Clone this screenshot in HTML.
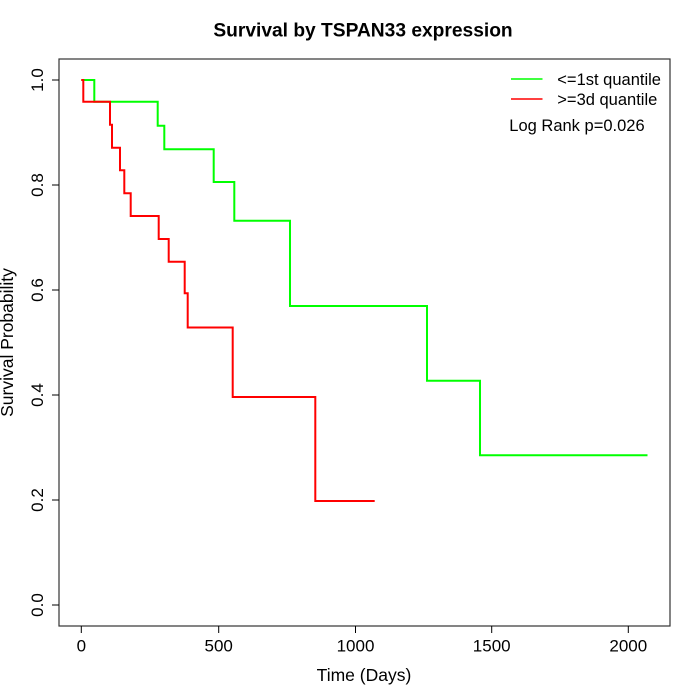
<!DOCTYPE html>
<html>
<head>
<meta charset="utf-8">
<style>
  html,body{margin:0;padding:0;background:#fff;}
  svg{display:block;}
  text{font-family:"Liberation Sans", Arial, sans-serif;fill:#000;}
</style>
</head>
<body>
<svg width="700" height="700" viewBox="0 0 700 700" xmlns="http://www.w3.org/2000/svg">
  <rect x="0" y="0" width="700" height="700" fill="#fff"/>
  <!-- title -->
  <text x="363" y="36.7" font-size="19.2" font-weight="bold" text-anchor="middle">Survival by TSPAN33 expression</text>

  <!-- plot box -->
  <rect x="59" y="59" width="611" height="567" fill="none" stroke="#333" stroke-width="1.2"/>

  <!-- x ticks -->
  <g stroke="#000" stroke-width="1">
    <line x1="81.3" y1="626" x2="81.3" y2="633"/>
    <line x1="218.7" y1="626" x2="218.7" y2="633"/>
    <line x1="355.5" y1="626" x2="355.5" y2="633"/>
    <line x1="491.7" y1="626" x2="491.7" y2="633"/>
    <line x1="628.3" y1="626" x2="628.3" y2="633"/>
  </g>
  <g font-size="17" text-anchor="middle">
    <text x="81.3" y="651.7">0</text>
    <text x="218.7" y="651.7">500</text>
    <text x="355.5" y="651.7">1000</text>
    <text x="491.7" y="651.7">1500</text>
    <text x="628.3" y="651.7">2000</text>
  </g>
  <text x="364" y="681" font-size="17.5" text-anchor="middle">Time (Days)</text>

  <!-- y ticks -->
  <g stroke="#000" stroke-width="1">
    <line x1="52" y1="605" x2="59" y2="605"/>
    <line x1="52" y1="500" x2="59" y2="500"/>
    <line x1="52" y1="395" x2="59" y2="395"/>
    <line x1="52" y1="290" x2="59" y2="290"/>
    <line x1="52" y1="185" x2="59" y2="185"/>
    <line x1="52" y1="80" x2="59" y2="80"/>
  </g>
  <g font-size="17" text-anchor="middle">
    <text transform="translate(43,605) rotate(-90)">0.0</text>
    <text transform="translate(43,500) rotate(-90)">0.2</text>
    <text transform="translate(43,395) rotate(-90)">0.4</text>
    <text transform="translate(43,290) rotate(-90)">0.6</text>
    <text transform="translate(43,185) rotate(-90)">0.8</text>
    <text transform="translate(43,80) rotate(-90)">1.0</text>
  </g>
  <text transform="translate(13,342.5) rotate(-90)" font-size="17.5" text-anchor="middle">Survival Probability</text>

  <!-- green curve -->
  <path d="M81.3,80 H94.3 V101.7 H157.7 V125.7 H164.3 V149.3 H213.7 V182 H234.3 V220.7 H290 V306 H427 V380.7 H480 V455.3 H647.5"
        fill="none" stroke="#00ff00" stroke-width="2"/>
  <!-- red curve -->
  <path d="M81.3,80 H83.3 V101.7 H110 V124.7 H112 V147.7 H120 V170.3 H124.3 V193.3 H130.7 V216 H158.7 V239 H168.7 V261.7 H184.7 V293.3 H187.7 V327.5 H232.7 V397 H315.3 V501 H374.7"
        fill="none" stroke="#ff0000" stroke-width="2"/>

  <!-- legend -->
  <line x1="511" y1="79" x2="542.5" y2="79" stroke="#00ff00" stroke-width="1.5"/>
  <line x1="511" y1="99" x2="542.5" y2="99" stroke="#ff0000" stroke-width="1.5"/>
  <text x="557.3" y="85" font-size="16.5">&lt;=1st quantile</text>
  <text x="557.3" y="105" font-size="16.5">&gt;=3d quantile</text>
  <text x="509.3" y="131" font-size="16.5">Log Rank p=0.026</text>
</svg>
</body>
</html>
